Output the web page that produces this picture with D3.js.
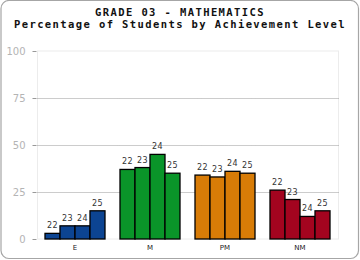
<!DOCTYPE html>
<html>
<head>
<meta charset="utf-8">
<script src="https://cdn.jsdelivr.net/npm/d3@7"></script>
<style>
  body { margin: 0; background: #fff; }
  svg { display: block; }
</style>
</head>
<body>
<svg id="chart"></svg>
<script>
// data
const levels = ['E', 'M', 'PM', 'NM'];
const years = ['22', '23', '24', '25'];
const levelColors = ['#0c4492', '#0a9529', '#d87c07', '#a3041f'];
const valuesE = [3, 7, 7, 15];
const valuesM = [37, 38, 45, 35];
const valuesPM = [34, 33, 36, 35];
const valuesNM = [26, 21, 12, 15];
const yTicks = [0, 25, 50, 75, 100];
const titleLines = ['GRADE 03 - MATHEMATICS', 'Percentage of Students by Achievement Level'];

const allValues = [valuesE, valuesM, valuesPM, valuesNM];
const rows = [];
levels.forEach((lv, i) => {
    years.forEach((yr, j) => {
        rows.push({ level: lv, year: yr, value: allValues[i][j], color: levelColors[i] });
    });
});

const W = 360, H = 260;
const plot = { left: 37.5, right: 338.5, top: 51, bottom: 239 };

const svg = d3.select('#chart').attr('width', W).attr('height', H);

// outer rounded frame
svg.append('rect')
    .attr('x', 1).attr('y', 0.5)
    .attr('width', W - 2.5).attr('height', H - 2)
    .attr('rx', 8)
    .attr('fill', '#fff')
    .attr('stroke', '#a6a6a6')
    .attr('stroke-width', 1.2);

// title
svg.append('g')
    .selectAll('text')
    .data(titleLines)
    .enter()
    .append('text')
    .attr('x', W / 2)
    .attr('y', (d, i) => 16 + i * 11.5)
    .attr('text-anchor', 'middle')
    .attr('font-family', 'DejaVu Sans Mono, monospace')
    .attr('font-weight', 'bold')
    .attr('font-size', 10.5)
    .attr('letter-spacing', 1.4)
    .attr('fill', '#111')
    .text((d) => d);

const x = d3.scaleBand()
    .domain(levels)
    .range([plot.left, plot.right - 1])
    .paddingInner(0.2)
    .paddingOuter(0.1);

const xi = d3.scaleBand()
    .domain(years)
    .range([0, x.bandwidth()]);

const y = d3.scaleLinear()
    .domain([0, 100])
    .range([plot.bottom, plot.top]);

// plot frame
svg.append('rect')
    .attr('x', plot.left).attr('y', plot.top)
    .attr('width', plot.right - plot.left)
    .attr('height', plot.bottom - plot.top)
    .attr('fill', 'none')
    .attr('stroke', '#ececec');

// dotted grid
svg.append('g')
    .selectAll('line')
    .data(yTicks.filter((t) => t > 0 && t < 100))
    .enter()
    .append('line')
    .attr('x1', plot.left).attr('x2', plot.right)
    .attr('y1', (d) => Math.round(y(d)) + 0.5)
    .attr('y2', (d) => Math.round(y(d)) + 0.5)
    .attr('stroke', '#999')
    .attr('stroke-dasharray', '1,1');

// y axis
const yAxis = svg.append('g')
    .attr('transform', `translate(${plot.left - 1},0)`)
    .call(d3.axisLeft(y).tickValues(yTicks).tickSize(4).tickPadding(7));
yAxis.select('.domain').remove();
yAxis.selectAll('line').attr('stroke', '#999');
yAxis.selectAll('text')
    .attr('fill', '#b4b4b4')
    .attr('font-family', 'DejaVu Sans, sans-serif')
    .attr('font-size', 10);

// bars
svg.append('g')
    .selectAll('rect')
    .data(rows)
    .enter()
    .append('rect')
    .attr('x', (d) => x(d.level) + xi(d.year))
    .attr('y', (d) => y(d.value))
    .attr('width', xi.bandwidth())
    .attr('height', (d) => y(0) - y(d.value))
    .attr('fill', (d) => d.color)
    .attr('stroke', '#000')
    .attr('stroke-width', 1.3);

// year labels above bars
svg.append('g')
    .selectAll('text')
    .data(rows)
    .enter()
    .append('text')
    .attr('x', (d) => x(d.level) + xi(d.year) + xi.bandwidth() / 2)
    .attr('y', (d) => y(d.value) - 5)
    .attr('text-anchor', 'middle')
    .attr('font-family', 'DejaVu Sans, sans-serif')
    .attr('font-size', 8)
    .attr('letter-spacing', 0.5)
    .attr('fill', '#333')
    .text((d) => d.year);

// x axis labels
svg.append('g')
    .selectAll('text')
    .data(levels)
    .enter()
    .append('text')
    .attr('x', (d) => x(d) + x.bandwidth() / 2)
    .attr('y', 250)
    .attr('text-anchor', 'middle')
    .attr('font-family', 'DejaVu Sans, sans-serif')
    .attr('font-size', 7)
    .attr('fill', '#222')
    .text((d) => d);
</script>
</body>
</html>
